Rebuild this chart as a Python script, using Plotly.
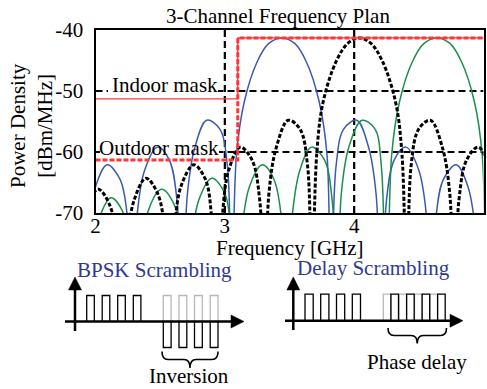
import plotly.graph_objects as go

# ---------------- data ----------------
# 3 channel spectra, GHz vs dBm/MHz (nulls drop below the axis)
black_x = [1.84, 1.87, 1.93, 2.02, 2.11, 2.17, 2.20, 2.24, 2.30, 2.39, 2.48, 2.54,
           2.57, 2.61, 2.66, 2.76, 2.85, 2.90, 2.94, 2.98, 3.03, 3.12, 3.21, 3.27,
           3.31, 3.34, 3.40, 3.49, 3.58, 3.64, 3.67, 3.71, 3.76, 3.86, 3.95, 4.04,
           4.13, 4.22, 4.32, 4.37, 4.41, 4.44, 4.50, 4.59, 4.68, 4.74, 4.77, 4.81,
           4.87, 4.96, 5.05, 5.11, 5.14]
black_y = [-90, -76.9, -69.5, -66.1, -68.7, -75.6, -90, -75.3, -67.8, -64.3, -66.8, -73.7,
           -90, -73.3, -65.7, -62.1, -64.5, -71.3, -90, -70.7, -63.0, -59.2, -61.3, -67.9,
           -90, -67.0, -59.1, -54.8, -56.2, -62.3, -90, -60.5, -51.8, -45.2, -42.2, -41.3,
           -42.2, -45.2, -51.8, -60.5, -90, -62.3, -56.2, -54.8, -59.1, -67.0, -90, -67.9,
           -61.3, -59.2, -63.0, -70.7, -90]

blue_x = [1.90, 1.94, 2.00, 2.09, 2.19, 2.25, 2.29, 2.32, 2.38, 2.48, 2.57, 2.63,
          2.67, 2.71, 2.77, 2.86, 2.96, 3.02, 3.05, 3.09, 3.15, 3.25, 3.34, 3.44,
          3.54, 3.63, 3.73, 3.79, 3.82, 3.86, 3.92, 4.02, 4.11, 4.17, 4.21, 4.25,
          4.31, 4.40, 4.50, 4.56, 4.60, 4.63, 4.69, 4.79, 4.88, 4.94, 4.98, 5.02, 5.08]
blue_y = [-90, -73.3, -65.7, -62.1, -64.5, -71.3, -90, -70.7, -63.0, -59.2, -61.3, -67.9,
          -90, -67.0, -59.1, -54.8, -56.2, -62.3, -90, -60.5, -51.8, -45.2, -42.2, -41.3,
          -42.2, -45.2, -51.8, -60.5, -90, -62.3, -56.2, -54.8, -59.1, -67.0, -90, -67.9,
          -61.3, -59.2, -63.0, -70.7, -90, -71.3, -64.5, -62.1, -65.7, -73.3, -90, -73.7, -66.8]

green_x = [1.93, 1.97, 2.03, 2.12, 2.22, 2.28, 2.32, 2.36, 2.41, 2.51, 2.61, 2.67,
           2.71, 2.74, 2.80, 2.90, 3.00, 3.05, 3.09, 3.13, 3.19, 3.29, 3.38, 3.44,
           3.48, 3.52, 3.58, 3.67, 3.77, 3.83, 3.87, 3.90, 3.96, 4.06, 4.16, 4.21,
           4.25, 4.29, 4.35, 4.45, 4.54, 4.64, 4.74, 4.83, 4.93, 4.99, 5.03, 5.07, 5.12]
green_y = [-90, -78.2, -70.8, -67.5, -70.2, -77.2, -90, -76.9, -69.5, -66.1, -68.7, -75.6,
           -90, -75.3, -67.8, -64.3, -66.8, -73.7, -90, -73.3, -65.7, -62.1, -64.5, -71.3,
           -90, -70.7, -63.0, -59.2, -61.3, -67.9, -90, -67.0, -59.1, -54.8, -56.2, -62.3,
           -90, -60.5, -51.8, -45.2, -42.2, -41.3, -42.2, -45.2, -51.8, -60.5, -90, -62.3, -56.2]

# emission masks
mask_x = [2, 3.1, 3.1, 5]
indoor_y = [-51.3, -51.3, -41.3, -41.3]
outdoor_y = [-61.3, -61.3, -41.3, -41.3]

# reference lines
ref_freqs = [3, 4]
ref_levels = [-50, -60]

x_ticks = [2, 3, 4, 5]
x_ticktext = ["2", "3", "4", "5"]
y_ticks = [-70, -60, -50, -40]
y_ticktext = ["-70", "-60", "-50", "-40"]

# ---------------- layout geometry ----------------
W, H = 487, 389
PL, PR, PT, PB = 95.5, 483.5, 30, 213
FONT = "Liberation Serif, Times New Roman, serif"
BLUE = "#3a5aae"
GREEN = "#1a8f4c"
RED = "#ff3535"
NAVY = "#2e3a92"

fig = go.Figure()

fig.add_trace(go.Scatter(x=blue_x, y=blue_y, mode="lines",
                         line=dict(color=BLUE, width=1.5, shape="spline", smoothing=1)))
fig.add_trace(go.Scatter(x=green_x, y=green_y, mode="lines",
                         line=dict(color=GREEN, width=1.5, shape="spline", smoothing=1)))
fig.add_trace(go.Scatter(x=black_x, y=black_y, mode="lines",
                         line=dict(color="black", width=3, dash="4px,2px",
                                   shape="spline", smoothing=1)))
fig.add_trace(go.Scatter(x=mask_x, y=outdoor_y, mode="lines",
                         line=dict(color=RED, width=3, dash="5px,2px")))
fig.add_trace(go.Scatter(x=mask_x, y=indoor_y, mode="lines",
                         line=dict(color=RED, width=1.3)))
# dummy trace for overlay (diagram) axes
fig.add_trace(go.Scatter(x=[None], y=[None], xaxis="x2", yaxis="y2", mode="lines"))

shapes = []
# dashed reference lines (below traces)
for f in ref_freqs:
    shapes.append(dict(type="line", xref="x", yref="y", x0=f, x1=f, y0=-70, y1=-40,
                       layer="below", line=dict(color="black", width=2.2, dash="7px,4px")))
for lv in ref_levels:
    shapes.append(dict(type="line", xref="x", yref="y", x0=2, x1=5, y0=lv, y1=lv,
                       layer="below", line=dict(color="black", width=2.2, dash="7px,4px")))


def px2x(px):
    return 2 + (px - PL) / (PR - PL) * 3


def py2y(py):
    return -40 - (py - PT) / (PB - PT) * 30


# white boxes behind the mask labels (hide the dashed lines)
shapes.append(dict(type="rect", xref="x", yref="y", x0=px2x(108), x1=px2x(218),
                   y0=py2y(94), y1=py2y(76), layer="below", line=dict(width=0),
                   fillcolor="white"))
shapes.append(dict(type="rect", xref="x", yref="y", x0=px2x(97), x1=px2x(219),
                   y0=py2y(157), y1=py2y(139), layer="below", line=dict(width=0),
                   fillcolor="white"))


# ---------------- scrambling diagrams (pixel space on x2/y2) ----------------
def line(x0, y0, x1, y1, color="black", w=2.5):
    return dict(type="line", xref="x2", yref="y2", x0=x0, y0=y0, x1=x1, y1=y1,
                line=dict(color=color, width=w))


def path(d, color="black", w=1.3, fill=None):
    s = dict(type="path", xref="x2", yref="y2", path=d, line=dict(color=color, width=w))
    if fill:
        s["fillcolor"] = fill
    return s


def pulse(x0, width, ybase, ytop, color):
    x1 = x0 + width
    return path(f"M{x0},{ybase} L{x0},{ytop} L{x1},{ytop} L{x1},{ybase}", color=color, w=1.3)


def arrow_up(x, ybot, ytip):
    return [line(x, ybot, x, ytip + 10),
            path(f"M{x - 6.5},{ytip + 13} L{x},{ytip} L{x + 6.5},{ytip + 13} Z",
                 color="black", w=0.5, fill="black")]


def arrow_right(xl, xtip, y):
    return [line(xl, y, xtip - 10, y),
            path(f"M{xtip - 13},{y - 6.5} L{xtip},{y} L{xtip - 13},{y + 6.5} Z",
                 color="black", w=0.5, fill="black")]


def brace(xl, xr, ytop, ymid, ytip):
    xc = (xl + xr) / 2
    r = 6
    d = (f"M{xl},{ytop} Q{xl},{ymid} {xl + r},{ymid} L{xc - r},{ymid} "
         f"Q{xc},{ymid} {xc},{ytip} Q{xc},{ymid} {xc + r},{ymid} "
         f"L{xr - r},{ymid} Q{xr},{ymid} {xr},{ytop}")
    return path(d, color="black", w=1.6)


GRAY = "#b8b8b8"
# BPSK scrambling
yb1 = 321.5
for x0 in [86.7, 102.2, 117.7, 133.3]:
    shapes.append(pulse(x0, 7.6, yb1, yb1 - 26, "black"))
for x0 in [163.3, 179.0, 194.5, 210.2]:
    shapes.append(pulse(x0, 7.8, yb1, yb1 - 26, GRAY))
    shapes.append(pulse(x0, 7.8, yb1, yb1 + 26, "black"))
shapes += arrow_right(65, 244, yb1)
shapes += arrow_up(75, 331, 277)
shapes.append(brace(162, 218, 351.5, 359.5, 368))

# Delay scrambling
yb2 = 320.7
for x0 in [305.0, 320.7, 336.5, 352.3]:
    shapes.append(pulse(x0, 8.2, yb2, yb2 - 26.5, "black"))
for x0 in [383.3, 399.0, 414.5, 430.0]:
    shapes.append(pulse(x0, 7.6, yb2, yb2 - 26.5, GRAY))
for x0 in [390.9, 406.6, 422.1, 437.6]:
    shapes.append(pulse(x0, 7.6, yb2, yb2 - 26.5, "black"))
shapes += arrow_right(285, 463, yb2)
shapes += arrow_up(293.3, 330, 277)
shapes.append(brace(388, 446.5, 328, 335.5, 343.5))

annotations = [
    dict(text="3-Channel Frequency Plan", xref="x2", yref="y2", x=277.5, y=16,
         showarrow=False, font=dict(family=FONT, size=21, color="black")),
    dict(text="Frequency [GHz]", xref="x2", yref="y2", x=290, y=248,
         showarrow=False, font=dict(family=FONT, size=21, color="black")),
    dict(text="Power Density<br>[dBm/MHz]", xref="x2", yref="y2", x=31, y=126,
         textangle=-90, showarrow=False,
         font=dict(family=FONT, size=21, color="black")),
    dict(text="Indoor mask", xref="x", yref="y", x=px2x(110), y=py2y(85),
         xanchor="left", yanchor="middle", showarrow=False,
         font=dict(family=FONT, size=21, color="black")),
    dict(text="Outdoor mask", xref="x", yref="y", x=px2x(97), y=py2y(148),
         xanchor="left", yanchor="middle", showarrow=False,
         font=dict(family=FONT, size=21, color="black")),
    dict(text="BPSK Scrambling", xref="x2", yref="y2", x=154.5, y=270,
         showarrow=False, font=dict(family=FONT, size=21, color=NAVY)),
    dict(text="Delay Scrambling", xref="x2", yref="y2", x=373.5, y=268,
         showarrow=False, font=dict(family=FONT, size=21, color=NAVY)),
    dict(text="Inversion", xref="x2", yref="y2", x=189, y=376,
         showarrow=False, font=dict(family=FONT, size=21, color="black")),
    dict(text="Phase delay", xref="x2", yref="y2", x=417, y=362,
         showarrow=False, font=dict(family=FONT, size=21, color="black")),
]

fig.update_layout(
    template="none",
    width=W, height=H,
    margin=dict(l=0, r=0, t=0, b=0, pad=0, autoexpand=False),
    paper_bgcolor="white", plot_bgcolor="rgba(0,0,0,0)",
    showlegend=False,
    xaxis=dict(domain=[PL / W, PR / W], range=[2, 5], tickvals=x_ticks, ticktext=x_ticktext,
               automargin=False,
               showgrid=False, zeroline=False, showline=True, mirror=True,
               linecolor="black", linewidth=2, ticks="inside", ticklen=4, tickwidth=1.5,
               tickcolor="black", ticklabelstandoff=-7,
               tickfont=dict(family=FONT, size=21, color="black")),
    yaxis=dict(domain=[1 - PB / H, 1 - PT / H], range=[-70, -40], tickvals=y_ticks,
               ticktext=y_ticktext, showgrid=False, zeroline=False, showline=True,
               automargin=False,
               mirror=True, linecolor="black", linewidth=2, ticks="inside", ticklen=4,
               tickwidth=1.5, tickcolor="black", ticklabelstandoff=6,
               tickfont=dict(family=FONT, size=21, color="black")),
    xaxis2=dict(domain=[0, 1], range=[0, W], visible=False, anchor="y2", fixedrange=True,
                automargin=False),
    yaxis2=dict(domain=[0, 1], range=[H, 0], visible=False, anchor="x2", fixedrange=True,
                automargin=False),
    shapes=shapes,
    annotations=annotations,
)

fig.write_html("out.html")
